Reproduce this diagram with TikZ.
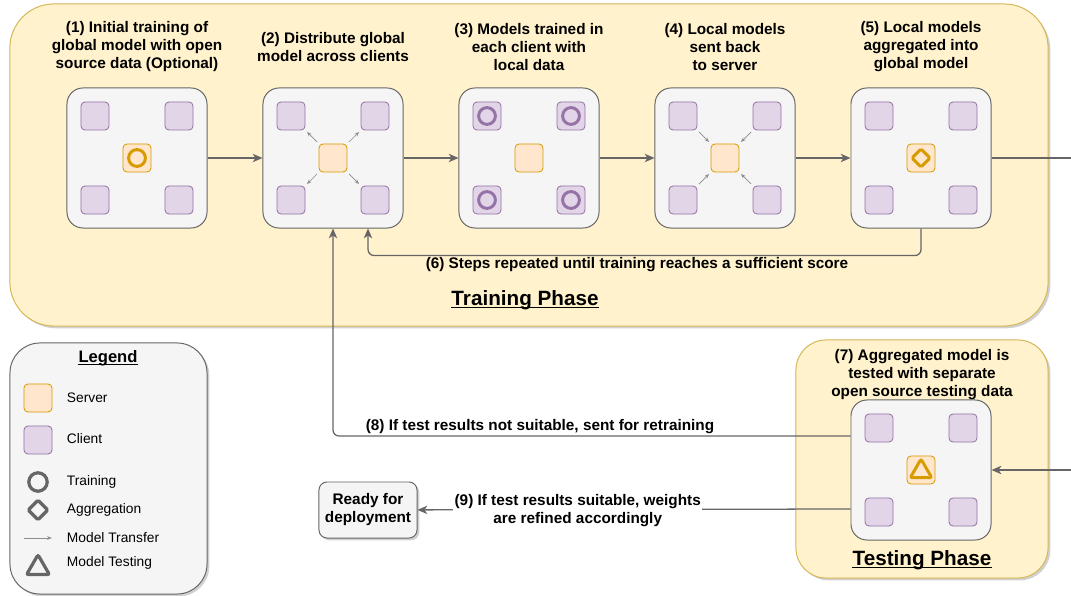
\documentclass[tikz,border=0pt]{standalone}
\usepackage{fontspec}
\setmainfont{Liberation Sans}
\usetikzlibrary{positioning,calc,shapes.geometric,arrows.meta,shadows}

\definecolor{phasefill}{HTML}{FFF2CC}
\definecolor{phaseline}{HTML}{D6B656}
\definecolor{panelfill}{HTML}{F5F5F5}
\definecolor{panelline}{HTML}{666666}
\definecolor{clientfill}{HTML}{E1D5E7}
\definecolor{clientline}{HTML}{9673A6}
\definecolor{serverfill}{HTML}{FFE6CC}
\definecolor{serverline}{HTML}{D79B00}
\definecolor{flowgray}{HTML}{666666}
\definecolor{xfergray}{HTML}{8C8C8C}

\newcommand{\stepfont}{\fontsize{10.9}{12.8}\selectfont\bfseries}
\newcommand{\phasefont}{\fontsize{14.7}{17}\selectfont\bfseries}
\newcommand{\legtitlefont}{\fontsize{11.8}{14}\selectfont\bfseries}
\newcommand{\legfont}{\fontsize{9.8}{11.5}\selectfont}

\begin{document}
\begin{tikzpicture}[
    x=0.025cm, y=-0.025cm,
    softshadow/.style={drop shadow={shadow xshift=1.6pt, shadow yshift=-1.6pt, opacity=0.18, fill=black}},
    phase/.style={rectangle, draw=phaseline, fill=phasefill, line width=0.7pt, rounded corners=1.1cm, softshadow},
    panel/.style={rectangle, draw=panelline, fill=panelfill, line width=0.7pt, minimum size=3.5cm, rounded corners=0.4cm},
    client/.style={rectangle, draw=clientline, fill=clientfill, line width=0.6pt, minimum size=0.7cm, rounded corners=0.1cm},
    server/.style={rectangle, draw=serverline, fill=serverfill, line width=0.6pt, minimum size=0.7cm, rounded corners=0.1cm},
    ring/.style={circle, draw=#1, line width=2.1pt, minimum size=0.42cm, inner sep=0pt},
    ring/.default=serverline,
    gem/.style={diamond, aspect=1, draw=#1, line width=2.1pt, minimum size=0.48cm, inner sep=0pt, rounded corners=1pt},
    gem/.default=serverline,
    tri/.style={regular polygon, regular polygon sides=3, draw=#1, line width=2.1pt, minimum size=0.62cm, inner sep=0pt, rounded corners=1.5pt},
    tri/.default=serverline,
    steptitle/.style={font=\stepfont, align=center},
    phasetitle/.style={font=\phasefont, inner xsep=0pt},
    legtext/.style={anchor=west, font=\legfont},
    ready/.style={rectangle, draw=panelline, fill=panelfill, line width=0.7pt, minimum width=2.45cm, minimum height=1.4cm, rounded corners=0.2cm, font=\stepfont, align=center, softshadow},
    flow/.style={draw=flowgray, line width=0.9pt, -{Stealth[length=7pt, width=6pt, inset=2pt]}},
    xfer/.style={draw=xfergray, line width=0.5pt, shorten <=1.5pt, shorten >=1.5pt, -{Stealth[length=3.5pt, width=2.6pt]}},
    uline/.style={draw=black, line width=0.8pt}
]
    \clip (0,0) rectangle (1071,596);

    % Phase boxes
    \node[phase, minimum width=25.95cm, minimum height=8.05cm] (training) at (529,165) {};
    \node[phase, rounded corners=0.75cm, minimum width=6.3cm, minimum height=5.95cm] (testing) at (922,459) {};

    % Panels with clients and server
    \foreach \i/\px/\py in {1/137/158,2/333/158,3/529/158,4/725/158,5/921/158,t/921/470} {
        \node[panel] (p\i) at (\px,\py) {};
        \node[client] (c\i1) at (\px-42,\py-42) {};
        \node[client] (c\i2) at (\px+42,\py-42) {};
        \node[client] (c\i3) at (\px-42,\py+42) {};
        \node[client] (c\i4) at (\px+42,\py+42) {};
        \node[server] (s\i) at (\px,\py) {};
    }

    % Icons
    \node[ring] (r1) at (s1) {};
    \foreach \k in {1,...,4}
        \node[ring=clientline] (r3\k) at (c3\k) {};
    \node[gem] (g5) at (s5) {};
    \node[tri] (tt) at ($(st)+(0,1.5)$) {};

    % Model transfers inside panels 2 and 4
    \foreach \k/\sa/\ca in {1/north west/south east,2/north east/south west,3/south west/north east,4/south east/north west} {
        \draw[xfer] (s2.\sa) -- (c2\k.\ca);
        \draw[xfer] (c4\k.\ca) -- (s4.\sa);
    }

    % Step titles
    \node[steptitle] (t1) at (137,47) {(1) Initial training of\\global model with open\\source data (Optional)};
    \node[steptitle] (t2) at (333,47) {(2) Distribute global\\model across clients};
    \node[steptitle] (t3) at (529,47) {(3) Models trained in\\each client with\\local data};
    \node[steptitle] (t4) at (725,47) {(4) Local models\\sent back\\to server};
    \node[steptitle] (t5) at (921,47) {(5) Local models\\aggregated into\\global model};
    \node[steptitle] (t7) at (922,375) {(7) Aggregated model is\\tested with separate\\open source testing data};

    % Flow between steps
    \foreach \i [count=\j from 2] in {1,...,4}
        \draw[flow] (p\i) -- (p\j);
    \draw[flow] (p5.east) -- ++(100,0) |- (pt.east);
    \draw[flow, rounded corners=0.15cm] (p5.south) -- ++(0,27) -| ($(p2.south)+(35,0)$);
    \draw[flow, rounded corners=0.15cm] ($(pt.west)+(0,-34)$) -| (p2.south);

    % Ready box
    \node[ready] (ready) at (368,510) {Ready for\\deployment};
    \draw[flow] ($(pt.west)+(0,39)$) -- (ready)
        node[steptitle, pos=0.63, yshift=-1pt, fill=white, inner sep=1pt] (l9) {(9) If test results suitable, weights\\are refined accordingly};

    % Labels
    \node[steptitle] (l6) at (637,265) {(6) Steps repeated until training reaches a sufficient score};
    \node[steptitle] (l8) at (540,427) {(8) If test results not suitable, sent for retraining};
    \node[phasetitle] (trn) at (525,300) {Training Phase};
    \node[phasetitle] (tst) at (922,560) {Testing Phase};
    \draw[uline] ([yshift=-1.8pt]trn.base west) -- ([yshift=-1.8pt]trn.base east);
    \draw[uline] ([yshift=-1.8pt]tst.base west) -- ([yshift=-1.8pt]tst.base east);

    % Legend
    \node[phase, draw=panelline, fill=panelfill, rounded corners=0.75cm, minimum width=4.925cm, minimum height=6.275cm] (legend) at (108.5,468.5) {};
    \node[font=\legtitlefont, inner xsep=0pt] (lgt) at (108,358) {Legend};
    \draw[uline, line width=0.7pt] ([yshift=-1.5pt]lgt.base west) -- ([yshift=-1.5pt]lgt.base east);
    \node[server] (lsrv) at (38,398) {};
    \node[legtext] (lsrvt) at (62,398) {Server};
    \node[client] (lcli) at (38,440) {};
    \node[legtext] (lclit) at (62,439) {Client};
    \node[ring=panelline, line width=2.3pt, minimum size=0.46cm] (lring) at (38,482) {};
    \node[legtext] (lringt) at (62,482) {Training};
    \node[gem=panelline, line width=2.3pt, minimum size=0.52cm] (lgem) at (38,510) {};
    \node[legtext] (lgemt) at (62,510) {Aggregation};
    \coordinate (lx1) at (24,538);
    \coordinate (lx2) at (52,538);
    \draw[xfer, shorten <=0pt, shorten >=0pt] (lx1) -- (lx2);
    \node[legtext] (lxt) at (62,538) {Model Transfer};
    \node[tri=panelline, line width=2.3pt, minimum size=0.66cm] (ltri) at (38,568) {};
    \node[legtext] (ltrit) at (62,563) {Model Testing};
\end{tikzpicture}
\end{document}
